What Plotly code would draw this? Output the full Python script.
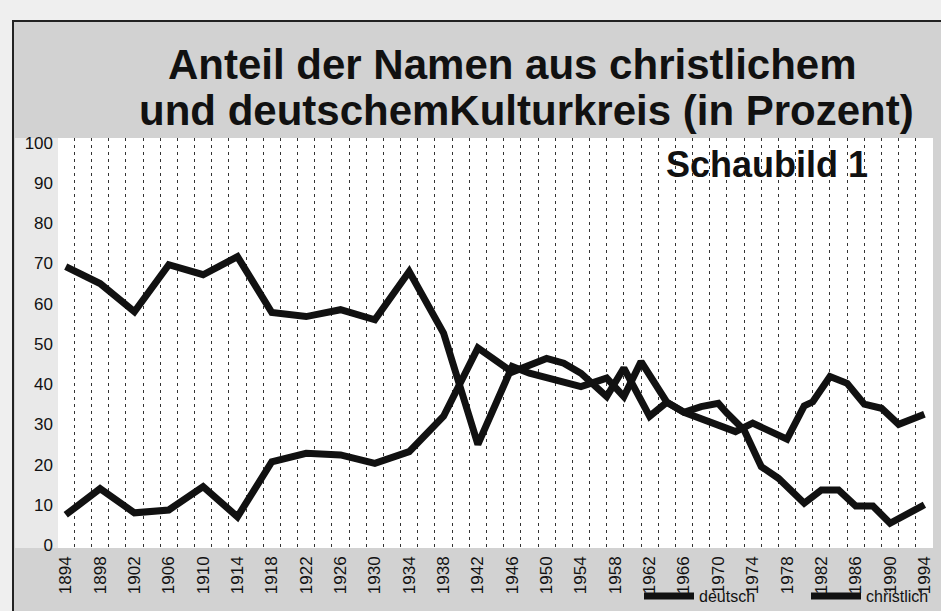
import plotly.graph_objects as go

# ---- data ----
deutsch_years = [1894, 1898, 1902, 1906, 1910, 1914, 1918, 1922, 1926, 1930, 1934, 1938,
                 1942, 1946, 1950, 1952, 1954, 1957, 1959, 1962, 1964, 1966, 1968, 1970,
                 1971, 1973, 1975, 1977, 1980, 1982, 1984, 1986, 1988, 1990, 1994]
deutsch_vals = [7.5, 14, 8, 8.7, 14.5, 7, 20.7, 22.8, 22.4, 20.3, 23.2, 32,
                49, 43, 46.4, 45.2, 42.7, 36.9, 44, 32, 35.5, 33, 34.4, 35.2,
                32.8, 28.6, 19.5, 16.6, 10.4, 13.7, 13.7, 9.7, 9.7, 5.4, 10]

christlich_years = [1894, 1898, 1902, 1906, 1910, 1914, 1918, 1922, 1926, 1930, 1934, 1938,
                    1942, 1946, 1948, 1950, 1954, 1957, 1959, 1961, 1964, 1966, 1968, 1972,
                    1974, 1978, 1980, 1981, 1983, 1985, 1987, 1989, 1991, 1994]
christlich_vals = [69.2, 65, 58, 69.7, 67.2, 71.7, 57.8, 56.8, 58.5, 56, 68, 52.7,
                   25, 44.4, 42.7, 41.5, 39.4, 41.5, 36.9, 45.6, 35.5, 33, 31.5, 28.2,
                   30.3, 26.3, 34.6, 35.6, 41.9, 40.2, 35, 34, 30, 32.5]

x_ticks = list(range(1894, 1995, 4))
y_ticks = list(range(0, 101, 10))
y_grid = list(range(10, 100, 10))

title_1 = "Anteil der Namen aus christlichem"
title_2 = "und deutschemKulturkreis (in Prozent)"
subtitle = "Schaubild 1"

# ---- layout geometry (pixels) ----
W, H = 941, 611
L, R, T, B = 58, 8, 138, 63
pw, ph = W - L - R, H - T - B


def px(x):
    return (x - L) / pw


def py(y):
    return (H - B - y) / ph


SANS = "Liberation Sans, Arial, Helvetica, sans-serif"
INK = "#111111"
GRID = "#333333"

fig = go.Figure()
fig.add_trace(go.Scatter(x=deutsch_years, y=deutsch_vals, mode="lines", name="deutsch",
                         line=dict(color=INK, width=7, shape="linear"), yaxis="y"))
fig.add_trace(go.Scatter(x=christlich_years, y=christlich_vals, mode="lines", name="christlich",
                         line=dict(color=INK, width=7, shape="linear"), yaxis="y"))

shapes = [
    # grey framed paper
    dict(type="rect", xref="paper", yref="paper", x0=px(13), x1=px(960), y0=py(640), y1=py(21),
         fillcolor="#d2d2d2", line=dict(color="#222222", width=2), layer="below"),
    # lighter strip behind y labels
    dict(type="rect", xref="paper", yref="paper", x0=px(15), x1=0, y0=0, y1=1,
         fillcolor="#e9e9e9", line=dict(width=0), layer="below"),
    # white plot area
    dict(type="rect", xref="paper", yref="paper", x0=0, x1=1, y0=0, y1=1,
         fillcolor="white", line=dict(width=0), layer="below"),
]

annotations = [
    dict(text=title_1, x=px(512), y=py(64), xref="paper", yref="paper", showarrow=False,
         font=dict(family=SANS, size=42, color=INK, weight="bold"), xanchor="center", yanchor="middle"),
    dict(text=title_2, x=px(526), y=py(111), xref="paper", yref="paper", showarrow=False,
         font=dict(family=SANS, size=42, color=INK, weight="bold"), xanchor="center", yanchor="middle"),
    dict(text=subtitle, x=px(767), y=py(165), xref="paper", yref="paper", showarrow=False,
         font=dict(family=SANS, size=36, color=INK, weight="bold"), xanchor="center", yanchor="middle"),
]

fig.update_layout(
    width=W, height=H,
    margin=dict(l=L, r=R, t=T, b=B, pad=0, autoexpand=False),
    paper_bgcolor="#efefef",
    plot_bgcolor="white",
    shapes=shapes,
    annotations=annotations,
    showlegend=True,
    legend=dict(orientation="h", x=px(639), y=py(596), xanchor="left", yanchor="middle",
                bgcolor="rgba(0,0,0,0)", font=dict(family=SANS, size=16, color=INK),
                entrywidth=102, entrywidthmode="pixels", itemwidth=50, tracegroupgap=0),
    xaxis=dict(range=[1893.1, 1995.0], tickmode="array", tickvals=x_ticks,
               ticktext=[str(v) for v in x_ticks], tickangle=-90, showgrid=False,
               zeroline=False, showline=False, ticks="", ticklabelstandoff=4,
               tickfont=dict(family=SANS, size=17, color=INK),
               minor=dict(tick0=1895, dtick=2, showgrid=True, gridcolor=GRID,
                          griddash="3px,4px", gridwidth=1)),
    yaxis=dict(range=[-0.75, 101.2], tickmode="array", tickvals=y_ticks,
               showgrid=False, zeroline=False, showline=False, ticks="",
               ticklabelstandoff=4, tickfont=dict(family=SANS, size=17, color=INK)),
    yaxis2=dict(range=[-0.75, 101.2], overlaying="y", matches="y", tickmode="array",
                tickvals=y_grid, showticklabels=False, showgrid=True, gridcolor=GRID,
                griddash="5px,4px", gridwidth=1, zeroline=False, showline=False, ticks=""),
)

fig.write_html("out.html", config={"displayModeBar": False},
               post_script="document.body.style.margin='0px';document.body.style.overflow='hidden';")
